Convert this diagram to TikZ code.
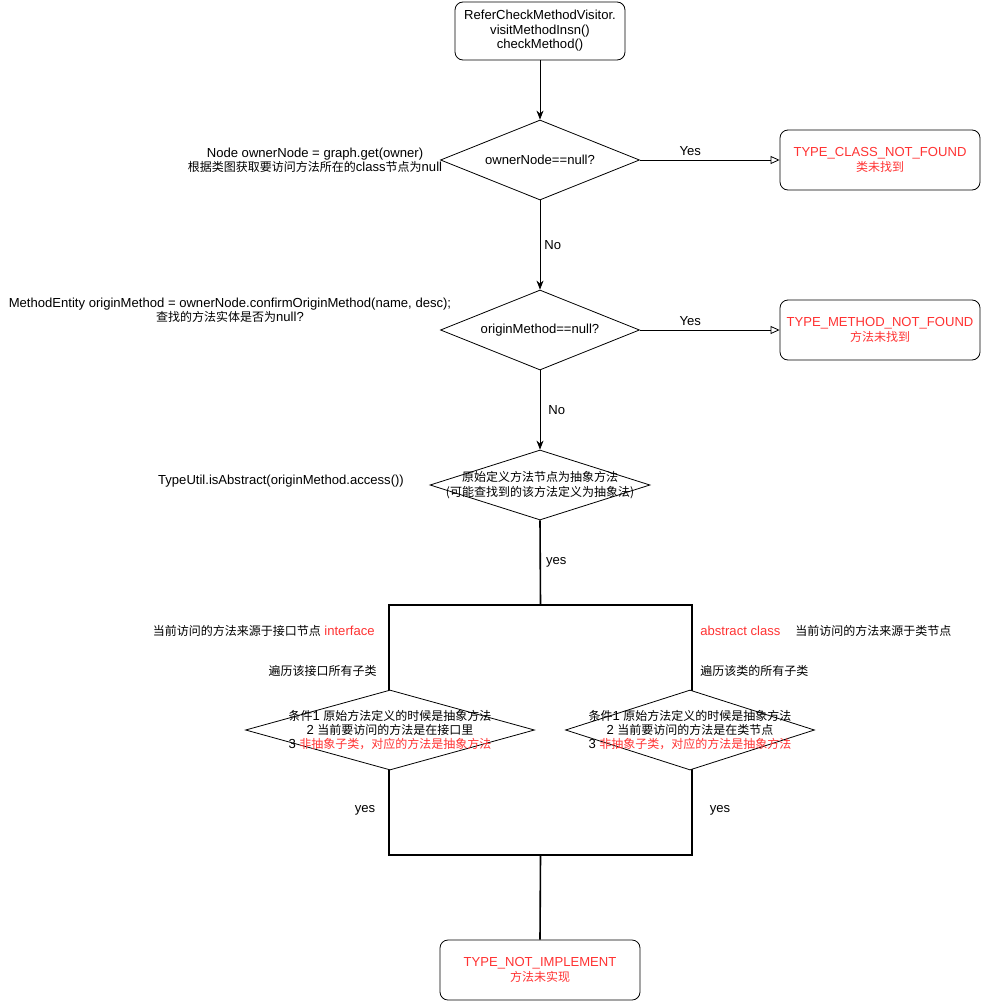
\documentclass[tikz,border=0pt]{standalone}
\usepackage{fontspec}
\setmainfont[Scale=1.09]{Liberation Sans}
\newfontfamily\cjk{Noto Sans CJK SC}
\usetikzlibrary{arrows.meta,shapes.geometric,positioning}
\definecolor{errred}{RGB}{255,51,51}
\newcommand{\zh}[1]{{\cjk #1}}
\tikzset{
  box/.style={draw, rounded corners=8pt, align=center, inner sep=0pt},
  dia/.style={draw, diamond, inner sep=0pt, fill=white},
  lbl/.style={align=center, inner sep=0pt},
  flow/.style={-{Stealth[length=9pt,width=7pt]}},
  yesflow/.style={-{Triangle[open,length=9pt,width=8pt]}},
}
\begin{document}
\begin{tikzpicture}[x=1pt,y=-1pt, line width=0.8pt,
  font=\fontsize{12}{14.4}\selectfont]
 \useasboundingbox (0,0) rectangle (981,1001);
 % start
 \node[box, minimum width=170pt, minimum height=58pt] (start) at (540,31)
   {ReferCheckMethodVisitor.\\visitMethodInsn()\\checkMethod()};
 % owner node
 \node[dia, minimum width=199pt, minimum height=80pt] (owner) at (540,160) {};
 \node[lbl] (ownertxt) at (owner) {ownerNode==null?};
 \node[box, minimum width=200pt, minimum height=60pt, text=errred] (noclass) at (880,160)
   {TYPE\_CLASS\_NOT\_FOUND\\\zh{类未找到}};
 \node[lbl] (ownernote) at (315,160)
   {Node ownerNode = graph.get(owner)\\\zh{根据类图获取要访问方法所在的}class\zh{节点为}null};
 % origin method
 \node[dia, minimum width=199pt, minimum height=80pt] (origin) at (540,330) {};
 \node[lbl] (origintxt) at (origin) {originMethod==null?};
 \node[box, minimum width=200pt, minimum height=60pt, text=errred] (nomethod) at (880,330)
   {TYPE\_METHOD\_NOT\_FOUND\\\zh{方法未找到}};
 \node[lbl] (originnote) at (230,310)
   {MethodEntity originMethod = ownerNode.confirmOriginMethod(name, desc);\\\zh{查找的方法实体是否为}null?};
 % abstract
 \node[dia, minimum width=220pt, minimum height=70pt] (abs) at (540,485) {};
 \node[lbl] (abstxt) at (abs) {\zh{原始定义方法节点为抽象方法}\\\zh{(可能查找到的该方法定义为抽象法)}};
 \node[lbl] (absnote) at (281,481) {TypeUtil.isAbstract(originMethod.access())};
 % branches
 \node[draw, line width=1.6pt, minimum width=303pt, minimum height=250pt, inner sep=0pt] (split) at (540.5,730) {};
 \node[lbl, anchor=east] (itfnote) at (375,631) {\zh{当前访问的方法来源于接口节点} \textcolor{errred}{interface}};
 \node[lbl, anchor=east] (itfloop) at (377,671) {\zh{遍历该接口所有子类}};
 \node[lbl, anchor=west, text=errred] (absclass) at (700,631) {abstract class};
 \node[lbl, anchor=west] (clsnote) at (795,631) {\zh{当前访问的方法来源于类节点}};
 \node[lbl, anchor=west] (clsloop) at (700,671) {\zh{遍历该类的所有子类}};
 \node[dia, minimum width=289pt, minimum height=80pt] (itfcheck) at (390,730) {};
 \node[lbl] (itftxt) at (itfcheck)
   {\zh{条件}1 \zh{原始方法定义的时候是抽象方法}\\2 \zh{当前要访问的方法是在接口里}\\3 \textcolor{errred}{\zh{非抽象子类，对应的方法是抽象方法}}};
 \node[dia, minimum width=249pt, minimum height=80pt] (clscheck) at (690,730) {};
 \node[lbl] (clstxt) at (clscheck)
   {\zh{条件}1 \zh{原始方法定义的时候是抽象方法}\\2 \zh{当前要访问的方法是在类节点}\\3 \textcolor{errred}{\zh{非抽象子类，对应的方法是抽象方法}}};
 % result
 \node[box, minimum width=200pt, minimum height=60pt, text=errred] (notimpl) at (540,970)
   {TYPE\_NOT\_IMPLEMENT\\\zh{方法未实现}};
 % connectors
 \draw[flow] (start) -- (owner.north);
 \draw[yesflow] (owner.east) -- node[pos=0.36, above=4pt, lbl] (yes1) {Yes} (noclass.west);
 \draw[flow] (owner.south) -- node[right=4pt, lbl] (no1) {No} (origin.north);
 \draw[yesflow] (origin.east) -- node[pos=0.36, above=4pt, lbl] (yes2) {Yes} (nomethod.west);
 \draw[flow] (origin.south) -- node[right=8pt, lbl] (no2) {No} (abs.north);
 \draw[line width=1.6pt] (abs.south) -- node[right=5pt, lbl] (yes3) {yes} (split.north);
 \draw[line width=1.6pt] (split.south) -- (notimpl.north);
 \node[lbl] (yes4) at (365,810) {yes};
 \node[lbl] (yes5) at (720,810) {yes};
\end{tikzpicture}
\end{document}
